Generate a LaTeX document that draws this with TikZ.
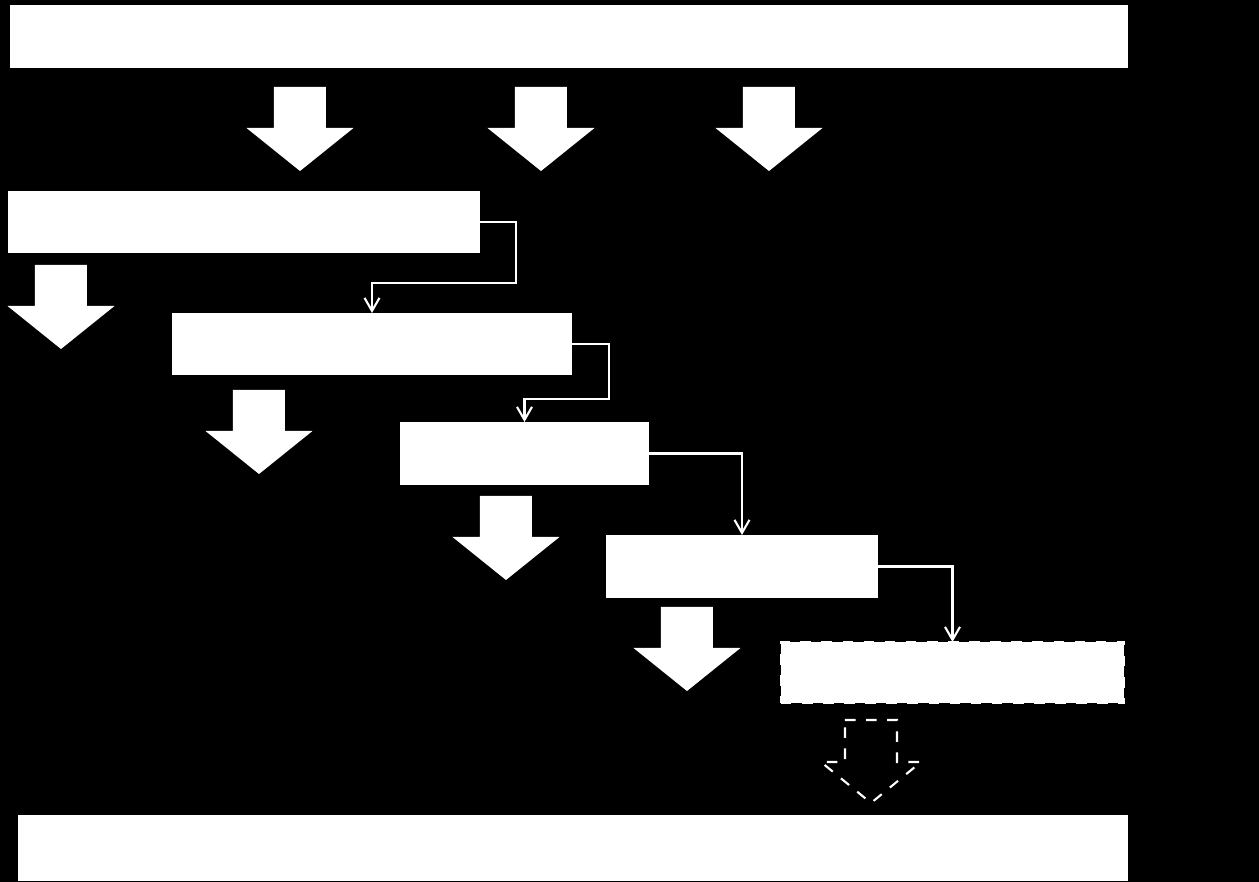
\documentclass[tikz,border=0pt]{standalone}
\usetikzlibrary{arrows.meta}
\begin{document}
\begin{tikzpicture}[x=0.01cm,y=-0.01cm,inner sep=0pt,outer sep=0pt,
stagebox/.style={fill=white,rectangle,minimum height=0.62cm},
openbox/.style={stagebox,draw=white,dashed,line width=0.6pt},
conn/.style={draw=white,line width=0.6pt,-{Straight Barb[length=1.3mm,width=1.5mm]}},
downarrow/.pic={\fill[white] (-26,0) -- (26,0) -- (26,41) -- (53.5,41) -- (0,84) -- (-53.5,41) -- (-26,41) -- cycle;},
hollowarrow/.pic={\draw[white,dashed,line width=0.6pt] (-26,0) -- (26,0) -- (26,42) -- (50,42) -- (0,83) -- (-50,42) -- (-26,42) -- cycle;}]
\fill[black] (0,0) rectangle (1259,882);
% stages
\node[stagebox,minimum width=11.18cm,minimum height=0.63cm] (top) at (569,36.5) {};
\node[stagebox,minimum width=4.72cm] (s1) at (244,222) {};
\node[stagebox,minimum width=4.00cm] (s2) at (372,344) {};
\node[stagebox,minimum width=2.49cm,minimum height=0.63cm] (s3) at (524.5,453.5) {};
\node[stagebox,minimum width=2.72cm,minimum height=0.63cm] (s4) at (742,566.5) {};
\node[openbox,minimum width=3.43cm,minimum height=0.61cm] (s5) at (952.5,672.5) {};
\node[stagebox,minimum width=11.10cm,minimum height=0.66cm] (bottom) at (573,848) {};
% block arrows
\pic at (300,87) {downarrow};
\pic at (541,87) {downarrow};
\pic at (769,87) {downarrow};
\pic at (61,265) {downarrow};
\pic at (259,390) {downarrow};
\pic at (506,496) {downarrow};
\pic at (687,607) {downarrow};
\pic at (871,720) {hollowarrow};
% hand-offs
\draw[conn] (s1.east) -- ++(36,0) -- ++(0,61) -| (s2.north);
\draw[conn] (s2.east) -- ++(37,0) -- ++(0,55) -| (s3.north);
\draw[conn] (s3.east) -| (s4.north);
\draw[conn] (s4.east) -| (s5.north);
\end{tikzpicture}
\end{document}
